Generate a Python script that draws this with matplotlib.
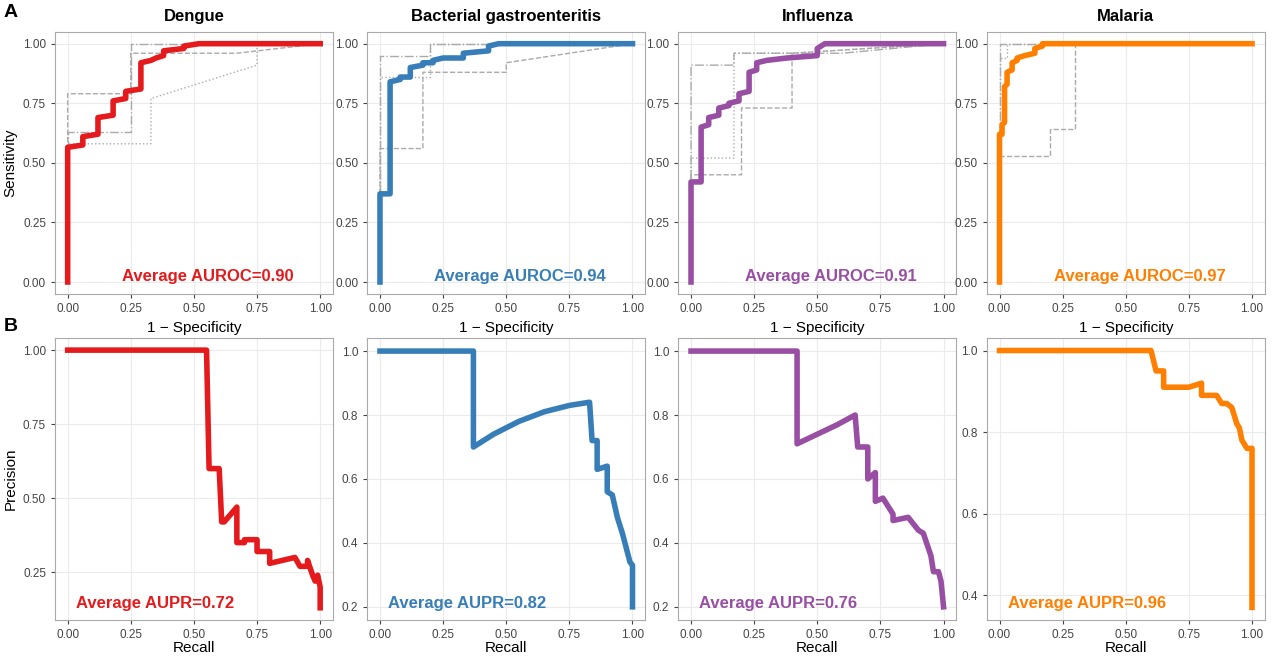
import matplotlib
matplotlib.use("Agg")
import matplotlib.pyplot as plt

diseases = ["Dengue", "Bacterial gastroenteritis", "Influenza", "Malaria"]
colors = ["#E41A1C", "#377EB8", "#984EA3", "#FF7F00"]
auroc = ["0.90", "0.94", "0.91", "0.97"]
aupr = ["0.72", "0.82", "0.76", "0.96"]

roc_fpr = [
    [0, 0, 0.06, 0.06, 0.12, 0.12, 0.18, 0.18, 0.23, 0.23, 0.29, 0.29, 0.33, 0.35, 0.38, 0.38, 0.46, 0.46, 0.52, 1],
    [0, 0, 0.02, 0.04, 0.04, 0.08, 0.08, 0.12, 0.12, 0.17, 0.17, 0.21, 0.21, 0.25, 0.33, 0.33, 0.43, 0.43, 0.47, 1],
    [0, 0, 0.04, 0.04, 0.07, 0.07, 0.11, 0.11, 0.15, 0.15, 0.19, 0.19, 0.23, 0.23, 0.26, 0.26, 0.30, 0.38, 0.50, 0.50, 0.53, 1],
    [0, 0, 0.01, 0.01, 0.02, 0.02, 0.03, 0.03, 0.05, 0.05, 0.07, 0.07, 0.10, 0.14, 0.14, 0.17, 0.17, 1],
]
roc_tpr = [
    [0, 0.565, 0.575, 0.61, 0.62, 0.69, 0.70, 0.76, 0.77, 0.80, 0.81, 0.92, 0.93, 0.94, 0.95, 0.97, 0.98, 0.99, 1, 1],
    [0, 0.37, 0.37, 0.37, 0.84, 0.85, 0.86, 0.86, 0.90, 0.91, 0.92, 0.92, 0.93, 0.94, 0.94, 0.96, 0.97, 0.99, 1, 1],
    [0, 0.42, 0.42, 0.65, 0.66, 0.69, 0.70, 0.73, 0.74, 0.75, 0.76, 0.79, 0.80, 0.88, 0.89, 0.92, 0.93, 0.94, 0.95, 0.98, 1, 1],
    [0, 0.62, 0.62, 0.66, 0.67, 0.82, 0.83, 0.88, 0.89, 0.92, 0.93, 0.94, 0.95, 0.96, 0.98, 0.99, 1, 1],
]
# per-fold gray curves
fold_x = [
    [[0.0, 0.0, 0.25, 0.25, 0.67, 1], [0.0, 0.0, 0.33, 0.33, 0.75, 0.75, 1], [0.0, 0.0, 0.25, 0.25, 0.5, 1]],
    [[0.0, 0.0, 0.17, 0.17, 0.5, 0.5, 1], [0.0, 0.0, 0.2, 0.2, 1], [0.0, 0.0, 0.2, 0.2, 0.67, 0.67, 1]],
    [[0.0, 0.0, 0.2, 0.2, 0.4, 0.4, 1], [0.0, 0.0, 0.17, 0.17, 0.4, 1], [0.0, 0.0, 0.17, 0.17, 0.6, 1]],
    [[0.0, 0.0, 0.2, 0.2, 0.3, 0.3, 1], [0.0, 0.0, 0.03, 0.03, 1], [0.0, 0.0, 0.12, 0.12, 1]],
]
fold_y = [
    [[0, 0.79, 0.79, 0.96, 0.96, 1], [0, 0.58, 0.58, 0.77, 0.91, 1, 1], [0, 0.63, 0.63, 1, 1, 1]],
    [[0, 0.56, 0.56, 0.88, 0.88, 0.92, 1], [0, 0.86, 0.86, 1, 1], [0, 0.95, 0.95, 1, 1, 1, 1]],
    [[0, 0.45, 0.45, 0.73, 0.73, 0.96, 1], [0, 0.52, 0.52, 0.96, 0.96, 1], [0, 0.91, 0.91, 0.96, 0.96, 1]],
    [[0, 0.53, 0.53, 0.64, 0.64, 1, 1], [0, 0.94, 0.94, 1, 1], [0, 1, 1, 1, 1]],
]
fold_styles = ["--", ":", "-."]

pr_recall = [
    [0, 0.55, 0.56, 0.60, 0.61, 0.62, 0.62, 0.67, 0.67, 0.70, 0.70, 0.75, 0.75, 0.80, 0.80, 0.90, 0.92, 0.95, 0.95, 0.97, 0.98, 0.99, 1, 1],
    [0, 0.37, 0.37, 0.45, 0.55, 0.65, 0.75, 0.83, 0.84, 0.86, 0.86, 0.90, 0.90, 0.92, 0.94, 0.96, 0.98, 0.99, 1, 1],
    [0, 0.42, 0.42, 0.50, 0.58, 0.65, 0.66, 0.70, 0.70, 0.73, 0.73, 0.76, 0.80, 0.80, 0.86, 0.90, 0.92, 0.95, 0.96, 0.98, 0.99, 1],
    [0, 0.60, 0.62, 0.65, 0.65, 0.75, 0.80, 0.80, 0.86, 0.88, 0.90, 0.92, 0.94, 0.95, 0.96, 0.97, 0.98, 1, 1],
]
pr_precision = [
    [1, 1, 0.60, 0.60, 0.42, 0.42, 0.42, 0.47, 0.35, 0.35, 0.36, 0.36, 0.32, 0.32, 0.28, 0.30, 0.27, 0.27, 0.29, 0.24, 0.22, 0.24, 0.20, 0.13],
    [1, 1, 0.70, 0.74, 0.78, 0.81, 0.83, 0.84, 0.72, 0.72, 0.63, 0.64, 0.56, 0.55, 0.48, 0.43, 0.37, 0.34, 0.33, 0.20],
    [1, 1, 0.71, 0.74, 0.77, 0.80, 0.70, 0.70, 0.60, 0.62, 0.53, 0.54, 0.49, 0.47, 0.48, 0.44, 0.43, 0.36, 0.31, 0.31, 0.28, 0.20],
    [1, 1, 0.95, 0.95, 0.91, 0.91, 0.92, 0.89, 0.89, 0.87, 0.87, 0.86, 0.82, 0.81, 0.78, 0.77, 0.76, 0.76, 0.37],
]
pr_ylim = [(0.09, 1.04), (0.16, 1.04), (0.16, 1.04), (0.34, 1.03)]
pr_yticks = [[0.25, 0.5, 0.75, 1.0], [0.2, 0.4, 0.6, 0.8, 1.0], [0.2, 0.4, 0.6, 0.8, 1.0], [0.4, 0.6, 0.8, 1.0]]

plt.rcParams["font.family"] = ["Liberation Sans", "DejaVu Sans"]
fig = plt.figure(figsize=(12.8, 6.62), dpi=100)
lefts = [0.043, 0.287, 0.530, 0.771]
w = 0.217

def style(ax):
    ax.set_facecolor("white")
    ax.grid(True, color="#EBEBEB", linewidth=0.8)
    ax.set_axisbelow(True)
    for s in ax.spines.values():
        s.set_color("#AAAAAA")
    ax.tick_params(colors="#444444", labelsize=8.5, length=3)
    ax.set_xticks([0, 0.25, 0.5, 0.75, 1.0])
    ax.set_xticklabels(["0.00", "0.25", "0.50", "0.75", "1.00"])

for i in range(4):
    ax = fig.add_axes([lefts[i], 0.556, w, 0.396])
    style(ax)
    for fx, fy, ls in zip(fold_x[i], fold_y[i], fold_styles):
        ax.plot(fx, fy, color="#AAAAAA", lw=1, ls=ls)
    ax.plot(roc_fpr[i], roc_tpr[i], color=colors[i], lw=4)
    ax.set_xlim(-0.05, 1.05); ax.set_ylim(-0.05, 1.05)
    ax.set_yticks([0, 0.25, 0.5, 0.75, 1.0])
    ax.set_yticklabels(["0.00", "0.25", "0.50", "0.75", "1.00"])
    ax.set_title(diseases[i], fontsize=12, fontweight="bold", pad=8)
    ax.set_xlabel("1 \u2212 Specificity", fontsize=11)
    ax.text(0.55, 0.05, "Average AUROC=" + auroc[i], color=colors[i], fontsize=12,
            fontweight="bold", ha="center", transform=ax.transAxes)
    if i == 0:
        ax.set_ylabel("Sensitivity", fontsize=11)

    bx = fig.add_axes([lefts[i], 0.064, w, 0.425])
    style(bx)
    bx.plot(pr_recall[i], pr_precision[i], color=colors[i], lw=4)
    bx.set_xlim(-0.05, 1.05); bx.set_ylim(*pr_ylim[i])
    bx.set_yticks(pr_yticks[i])
    if i == 0:
        bx.set_yticklabels(["0.25", "0.50", "0.75", "1.00"])
    else:
        bx.set_yticklabels(["%.1f" % v for v in pr_yticks[i]])
    bx.set_xlabel("Recall", fontsize=11, labelpad=0)
    bx.text(0.36, 0.04, "Average AUPR=" + aupr[i], color=colors[i], fontsize=12,
            fontweight="bold", ha="center", transform=bx.transAxes)
    if i == 0:
        bx.set_ylabel("Precision", fontsize=11)

fig.text(0.003, 0.975, "A", fontsize=14, fontweight="bold")
fig.text(0.003, 0.5, "B", fontsize=14, fontweight="bold")
fig.savefig("out.png", dpi=100, facecolor="white")
